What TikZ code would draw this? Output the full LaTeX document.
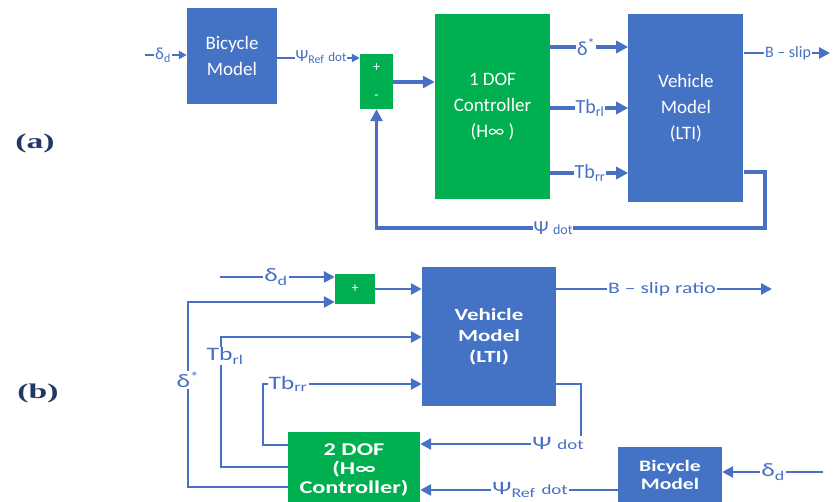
\documentclass[tikz,border=0pt]{standalone}
\usepackage{fontspec}
\setmainfont{Carlito}
\newfontfamily\widefont[FakeStretch=1.35]{Carlito}
\newfontfamily\tagfont[FakeStretch=1.6]{Liberation Serif}
\usepackage{xcolor}
\usepackage{tikz}
\usetikzlibrary{positioning,arrows.meta}

\definecolor{boxblue}{RGB}{68,114,196}
\definecolor{boxgreen}{RGB}{0,176,80}
\definecolor{wireblue}{RGB}{72,112,196}
\definecolor{tagnavy}{RGB}{31,56,100}

\begin{document}
\begin{tikzpicture}[
    x=1pt, y=-1pt,
    block/.style={
        rectangle,
        inner sep=0pt,
        align=center,
        text=white
    },
    bluebox/.style={block, fill=boxblue},
    greenbox/.style={block, fill=boxgreen},
    blocka/.style={font=\fontsize{19}{26}\selectfont},
    blockb/.style 2 args={font=\widefont\bfseries\fontsize{#1}{#2}\selectfont},
    arrow/.style={-{Triangle[length=11pt,width=11pt]}, draw=wireblue, line width=2.8pt},
    thickarrow/.style={arrow, line width=3.3pt, -{Triangle[length=12pt,width=12pt]}},
    thinarrow/.style={arrow, line width=2pt, -{Triangle[length=8pt,width=8pt]}},
    sig/.style={text=wireblue, fill=white, inner sep=1pt, font=\fontsize{20}{22}\selectfont},
    sigb/.style={sig, font=\widefont\fontsize{19}{21}\selectfont},
    tag/.style={text=tagnavy, font=\tagfont\bfseries\fontsize{21}{22}\selectfont}
]
\useasboundingbox (0,0) rectangle (833,502);

% (a) 1 DOF loop
\node[tag] (tagA) at (35,143) {(a)};

\node[bluebox, blocka, minimum width=90pt, minimum height=96pt] (bikeA) at (232,56) {Bicycle\\Model};

\node[greenbox, font=\fontsize{14}{28}\selectfont, minimum width=33pt, minimum height=55pt] (sumA) at (376.5,81.5) {+\\-};

\node[greenbox, blocka, minimum width=115pt, minimum height=185pt] (ctrlA) at (492.5,106.5) {1 DOF\\Controller\\(H∞ )};

\node[bluebox, blocka, minimum width=115pt, minimum height=188pt, right=78pt of ctrlA, yshift=-2pt] (vehA) {Vehicle\\Model\\(LTI)};

\coordinate (inA) at (145,55);
\coordinate (outA) at (830,53);
\coordinate (fbA) at (765,228);

\draw[thinarrow] (inA) -- (inA -| bikeA.west);
\draw[thinarrow] (bikeA.east |- 0,58) -- (sumA.west |- 0,58);
\draw[thickarrow] (sumA.east |- 0,82) -- (ctrlA.west |- 0,82);
\draw[thickarrow] (ctrlA.east |- 0,47) -- (vehA.west |- 0,47);
\draw[thickarrow] (ctrlA.east |- 0,108) -- (vehA.west |- 0,108);
\draw[thickarrow] (ctrlA.east |- 0,173) -- (vehA.west |- 0,173);
\draw[arrow] (vehA.east |- outA) -- (outA);
\draw[thickarrow] (vehA.east |- 0,172) -| (fbA) -| (sumA.south);

\node[sig, font=\fontsize{17}{18}\selectfont] (ddA) at (163,55) {δ\textsubscript{d}};
\node[sig, font=\fontsize{17}{18}\selectfont] (psiRefA) at (321,57) {Ψ\textsubscript{Ref} {\fontsize{13}{13}\selectfont dot}};
\node[sig] (deltaA) at (586,47) {δ\textsuperscript{*}};
\node[sig] (tbrlA) at (590,108) {Tb\textsubscript{rl}};
\node[sig] (tbrrA) at (590,173) {Tb\textsubscript{rr}};
\node[sig, font=\fontsize{16}{17}\selectfont] (slipA) at (788,53) {B – slip};
\node[sig] (psiA) at (553,228) {Ψ {\fontsize{14}{14}\selectfont dot}};

% (b) 2 DOF loop
\node[tag] (tagB) at (38,393) {(b)};

\node[greenbox, font=\fontsize{14}{14}\selectfont, minimum width=40pt, minimum height=30pt] (sumB) at (355,289) {+};

\node[bluebox, blockb={17}{21}, minimum width=134pt, minimum height=139pt] (vehB) at (489,336.5) {Vehicle\\Model\\(LTI)};

\node[greenbox, blockb={18}{19}, minimum width=132pt, minimum height=76pt] (ctrlB) at (354,470) {2 DOF\\(H∞\\Controller)};

\node[bluebox, blockb={16}{18}, minimum width=104pt, minimum height=56pt] (bikeB) at (670,475) {Bicycle\\Model};

\coordinate (inB) at (220,277);
\coordinate (deltaCorner) at (188,302);
\coordinate (tbrlCorner) at (221,337);
\coordinate (tbrrCorner) at (263,384);
\coordinate (fbB) at (581,444);
\coordinate (inBikeB) at (823,472);
\coordinate (outB) at (772,289);

\draw[arrow] (inB) -- (inB -| sumB.west);
\draw[arrow] (sumB.east) -- (sumB.east -| vehB.west);
\draw[arrow] (ctrlB.west |- 0,487) -| (deltaCorner) -- (deltaCorner -| sumB.west);
\draw[arrow] (ctrlB.west |- 0,467) -| (tbrlCorner) -- (tbrlCorner -| vehB.west);
\draw[arrow] (ctrlB.west |- 0,445) -| (tbrrCorner) -- (tbrrCorner -| vehB.west);
\draw[arrow] (vehB.east |- outB) -- (outB);
\draw[arrow] (vehB.east |- 0,384) -| (fbB) -- (fbB -| ctrlB.east);
\draw[arrow] (bikeB.west |- 0,490) -- (ctrlB.east |- 0,490);
\draw[arrow] (inBikeB) -- (inBikeB -| bikeB.east);

\node[sigb] (ddB) at (276,277) {δ\textsubscript{d}};
\node[sigb] (deltaB) at (188,380) {δ\textsuperscript{*}};
\node[sigb] (tbrlB) at (225,356) {Tb\textsubscript{rl}};
\node[sigb] (tbrrB) at (288,384) {Tb\textsubscript{rr}};
\node[sigb, font=\widefont\fontsize{16}{17}\selectfont] (slipB) at (662,289) {B – slip ratio};
\node[sigb] (psiB) at (558,443) {Ψ {\fontsize{14}{14}\selectfont dot}};
\node[sigb] (psiRefB) at (530,490) {Ψ\textsubscript{Ref} {\fontsize{14}{14}\selectfont dot}};
\node[sigb] (ddB2) at (773,472) {δ\textsubscript{d}};

\end{tikzpicture}
\end{document}
